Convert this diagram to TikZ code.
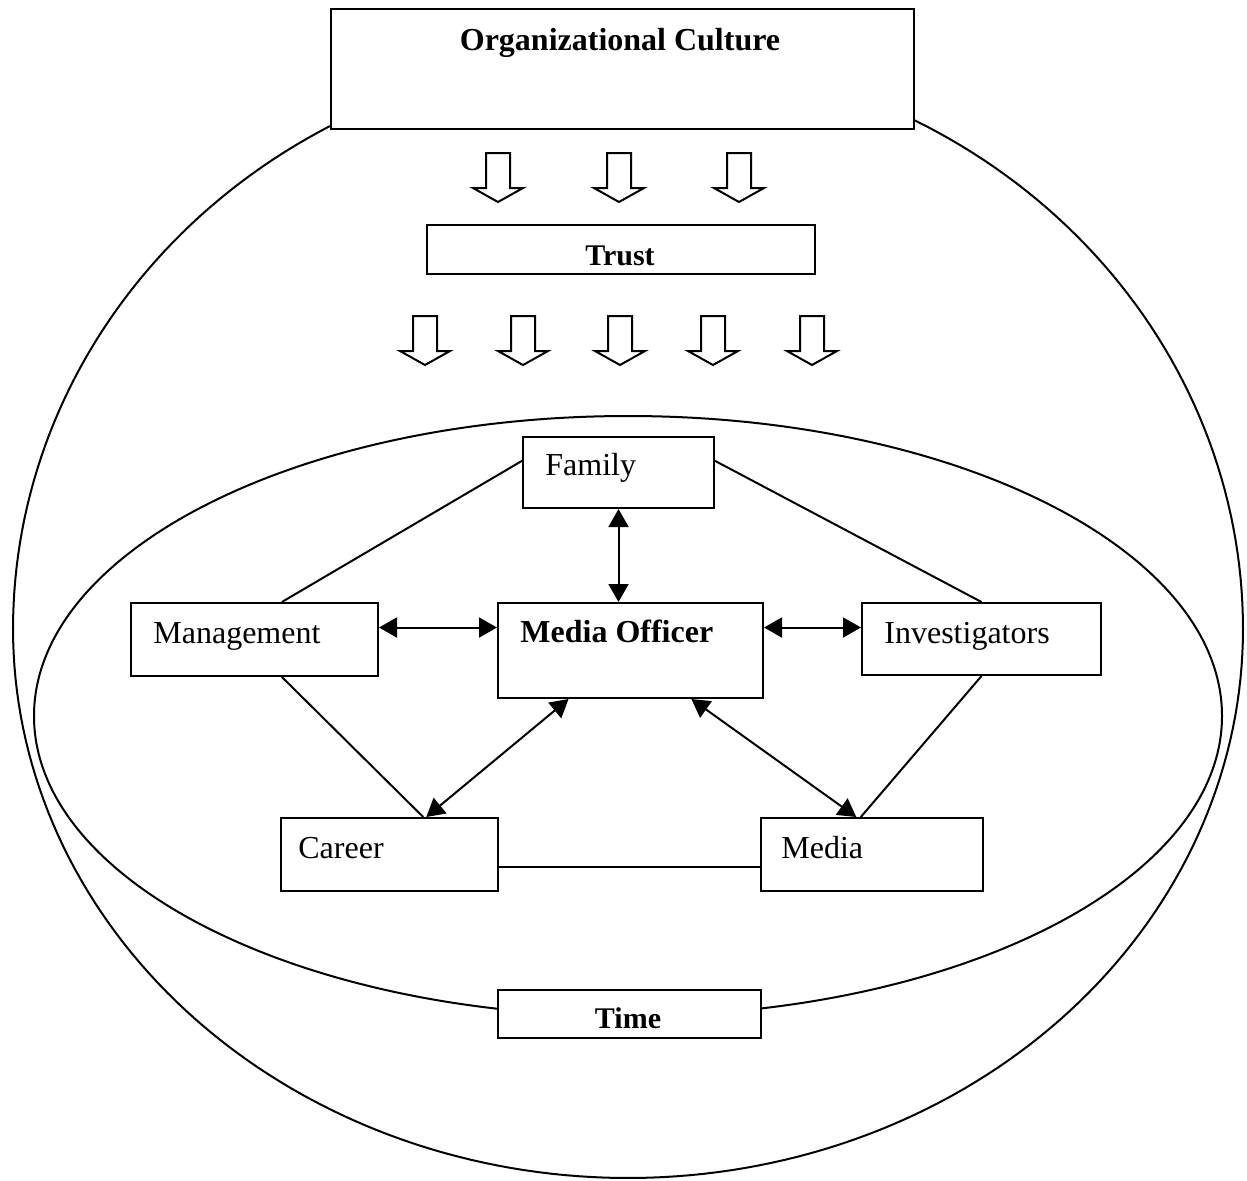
\documentclass[tikz,border=0pt]{standalone}
\usepackage{fontspec}
\setmainfont{Liberation Serif}
\usetikzlibrary{arrows.meta,calc}
\begin{document}
\begin{tikzpicture}[x=0.5pt,y=-0.5pt,
  box/.style={draw,line width=1pt,fill=white,inner sep=0pt,anchor=north west},
  lbl/.style={inner sep=0pt,anchor=base west,font=\fontsize{16}{19}\selectfont},
  blbl/.style={inner sep=0pt,anchor=base,font=\fontsize{16}{19}\selectfont\bfseries},
  link/.style={line width=1pt},
  dbl/.style={line width=1pt,{Triangle[length=9pt,width=10pt]}-{Triangle[length=9pt,width=10pt]}},
  blockarrow/.pic={\draw[line width=1pt,fill=white] (-12,0) -- (12,0) -- (12,35) -- (25,35) -- (0,49) -- (-25,35) -- (-12,35) -- cycle;}
]
\fill[white] (0,0) rectangle (1247,1180);
\useasboundingbox (0,0) rectangle (1247,1180);

% outer boundary
\draw[link] plot[domain=119:180,samples=50] ({628+615*cos(\x)},{629-575*sin(\x)})
  -- plot[domain=180:360,samples=140] ({628+615*cos(\x)},{629-549*sin(\x)})
  -- plot[domain=0:62.3,samples=50] ({628+615*cos(\x)},{629-575*sin(\x)});

% inner ellipse
\draw[link] (628,716) ellipse [x radius=297pt, y radius=150pt];

% boxes
\node[box,minimum width=291.5pt,minimum height=60pt] (oc) at (330,8) {};
\node[box,minimum width=194pt,minimum height=24.5pt] (trust) at (426,224) {};
\node[box,minimum width=95.5pt,minimum height=35.5pt] (fam) at (522,436) {};
\node[box,minimum width=123.5pt,minimum height=36.5pt] (mgmt) at (130,602) {};
\node[box,minimum width=132.5pt,minimum height=47.5pt] (mo) at (497,602) {};
\node[box,minimum width=119.5pt,minimum height=36pt] (inv) at (861,602) {};
\node[box,minimum width=108.5pt,minimum height=36.5pt] (car) at (280,817) {};
\node[box,minimum width=111pt,minimum height=36.5pt] (med) at (760,817) {};
\node[box,minimum width=131.5pt,minimum height=24pt] (time) at (497,989) {};

% block arrows
\foreach \cx in {498,619,739} \pic at (\cx,153) {blockarrow};
\foreach \cx in {425,523,620,713,812} \pic at (\cx,316) {blockarrow};

% plain connectors
\draw[link] ($(fam.north west)!0.34!(fam.south west)$) -- ($(mgmt.north west)!0.61!(mgmt.north east)$);
\draw[link] ($(fam.north east)!0.34!(fam.south east)$) -- (inv.north);
\draw[link] ($(mgmt.south west)!0.61!(mgmt.south east)$) -- ($(car.north west)!0.654!(car.north east)$);
\draw[link] (inv.south) -- ($(med.north west)!0.45!(med.north east)$);
\draw[link] ($(car.north east)!0.66!(car.south east)$) coordinate (cm) -- (med.west |- cm);

% double arrows
\draw[dbl] (fam.south) -- (fam.south |- mo.north);
\draw[dbl] ($(mgmt.north east)!0.34!(mgmt.south east)$) coordinate (ml) -- (mo.west |- ml);
\draw[dbl] (mo.east |- ml) -- (inv.west |- ml);
\draw[dbl] ($(mo.south west)!0.268!(mo.south east)$) -- ($(car.north west)!0.668!(car.north east)$);
\draw[dbl] ($(mo.south west)!0.728!(mo.south east)$) -- ($(med.north west)!0.43!(med.north east)$);

% texts
\node[blbl] (octxt) at (620,50) {Organizational Culture};
\node[blbl,font=\fontsize{15}{18}\selectfont\bfseries] (trusttxt) at (620,265) {Trust};
\node[blbl,font=\fontsize{15}{18}\selectfont\bfseries] (timetxt) at (628,1028) {Time};
\node[lbl] (famtxt) at (545,475) {Family};
\node[lbl] (mgmttxt) at (153,643) {Management};
\node[lbl,font=\fontsize{16}{19}\selectfont\bfseries] (motxt) at (520,642) {Media Officer};
\node[lbl] (invtxt) at (884,643) {Investigators};
\node[lbl] (cartxt) at (298,858) {Career};
\node[lbl] (medtxt) at (781,858) {Media};
\end{tikzpicture}
\end{document}
